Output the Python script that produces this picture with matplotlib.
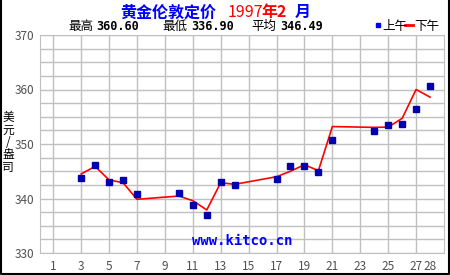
import matplotlib.pyplot as plt
from matplotlib.lines import Line2D

plt.rcParams['font.family'] = ['Noto Sans CJK SC', 'DejaVu Sans']

# 交易日 (1997年2月)
days = [3, 4, 5, 6, 7, 10, 11, 12, 13, 14, 17, 18, 19, 20, 21, 24, 25, 26, 27, 28]
am = [343.8, 346.2, 343.1, 343.4, 340.85, 341.0, 338.8, 336.9, 343.1, 342.5,
      343.6, 346.0, 346.0, 344.9, 350.8, 352.45, 353.4, 353.7, 356.5, 360.6]
pm = [344.5, 345.9, 343.4, 342.9, 339.85, 340.45, 339.6, 337.9, 342.9, 342.6,
      344.0, 345.0, 346.2, 345.1, 353.2, 353.05, 353.1, 354.7, 360.0, 358.6]

xticks = [1, 3, 5, 7, 9, 11, 13, 15, 17, 19, 21, 23, 25, 27, 28]
yticks = [330, 340, 350, 360, 370]
ylabel_chars = ['美', '元', '/', '盎', '司']

fig = plt.figure(figsize=(4.5, 2.75), dpi=100)
fig.patch.set_facecolor('white')
ax = fig.add_axes([40 / 450, 22 / 275, 404 / 450, 218 / 275])

# 网格
for d in range(1, 29, 2):
    ax.axvline(d, color='#c0c0c0', lw=1, zorder=0)
y = 330.0
while y <= 370:
    ax.axhline(y, color='#c0c0c0', lw=1, zorder=0)
    y += 2.5

ax.plot(days, pm, color='#ff0000', lw=1.2, zorder=2)
ax.plot(days, am, 's', color='#0000b0', ms=4.3, zorder=3, lw=0)

ax.set_xlim(0.05, 29)
ax.set_ylim(330, 370)
ax.set_xticks(xticks)
ax.set_yticks(yticks)
ax.tick_params(length=0, labelsize=8.5, labelcolor='#505050', pad=5)
ax.tick_params(axis='y', pad=4)
for s in ax.spines.values():
    s.set_color('#c0c0c0')

ax.text(0.5, 0.025, 'www.kitco.cn', transform=ax.transAxes, ha='center', va='bottom',
        color='#0000ff', fontsize=10, family='DejaVu Sans Mono', fontweight='bold')

# 标题
fig.text(0.268, 0.955, '黄金伦敦定价', color='#0000ff', fontsize=11.5,
         fontweight='bold', va='center', ha='left')
fig.text(0.505, 0.955, '1997', color='#ff0000', fontsize=11.5, va='center', ha='left')
fig.text(0.582, 0.955, '年2', color='#ff0000', fontsize=11.5, fontweight='bold', va='center', ha='left')
fig.text(0.655, 0.955, '月', color='#0000ff', fontsize=11.5, fontweight='bold', va='center', ha='left')

fig.text(68 / 450, 0.905, '最高', fontsize=9, va='center')
fig.text(96 / 450, 0.905, '360.60', fontsize=8.5, va='center', family='DejaVu Sans Mono', fontweight='bold')
fig.text(162 / 450, 0.905, '最低', fontsize=9, va='center')
fig.text(191 / 450, 0.905, '336.90', fontsize=8.5, va='center', family='DejaVu Sans Mono', fontweight='bold')
fig.text(251 / 450, 0.905, '平均', fontsize=9, va='center')
fig.text(280 / 450, 0.905, '346.49', fontsize=8.5, va='center', family='DejaVu Sans Mono', fontweight='bold')

fig.lines.append(Line2D([378 / 450], [0.91], marker='s', ms=3, color='#0000ff',
                        transform=fig.transFigure, lw=0))
fig.text(382 / 450, 0.905, '上午', fontsize=9, va='center')
fig.lines.append(Line2D([405 / 450, 413 / 450], [0.91, 0.91], color='#ff0000', lw=2,
                        transform=fig.transFigure))
fig.text(414 / 450, 0.905, '下午', fontsize=9, va='center')

# 纵轴单位, 逐字竖排
for i, ch in enumerate(ylabel_chars):
    fig.text(8 / 450, 1 - (118 + i * 12.3) / 275, ch, fontsize=8.5, ha='center', va='center')

# 外框
fig.lines.append(Line2D([0.5 / 450, 0.5 / 450, 448.5 / 450, 448.5 / 450],
                        [1, 1.5 / 275, 1.5 / 275, 1], color='black', lw=1.5,
                        transform=fig.transFigure))

fig.savefig('out.png', dpi=100)
